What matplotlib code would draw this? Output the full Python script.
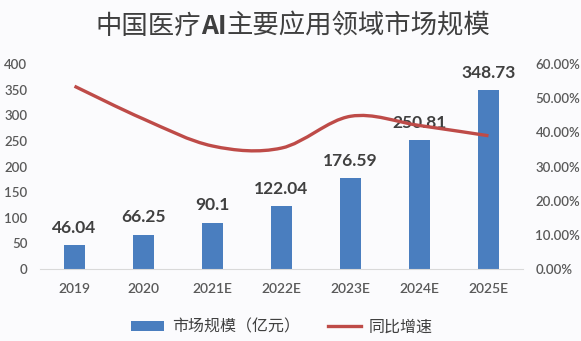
"""
plot.py — 中国医疗AI主要应用领域市场规模 (bar + smoothed growth line).
"""

import matplotlib
matplotlib.use("Agg")

import matplotlib.pyplot as plt
import matplotlib.ticker as mticker
from matplotlib.lines import Line2D
from matplotlib.offsetbox import AnchoredOffsetbox, HPacker, TextArea
from matplotlib.patches import PathPatch, Patch
from matplotlib.path import Path

# ── Data ──────────────────────────────────────────────────────────────────────
YEARS = ["2019", "2020", "2021E", "2022E", "2023E", "2024E", "2025E"]
MARKET_SIZE = [46.04, 66.25, 90.1, 122.04, 176.59, 250.81, 348.73]   # 亿元
YOY_GROWTH = [53.5, 43.9, 36.0, 35.4, 44.7, 42.0, 39.0]               # %

# ── Design tokens ─────────────────────────────────────────────────────────────
COLOR_BAR   = "#4A7EBF"
COLOR_LINE  = "#BE4B48"
COLOR_LABEL = "#404040"
COLOR_TICK  = "#595959"
COLOR_AXIS  = "#D9D9D9"
COLOR_BG    = "#FBFBFD"

CJK = ["Noto Sans CJK SC", "DejaVu Sans"]
NUM = ["Lato", "DejaVu Sans"]

plt.rcParams["font.family"] = CJK


def _smooth_path(xs, ys):
    """Catmull-Rom style Bezier path through the points (like Excel smoothing)."""
    pts = list(zip(xs, ys))
    n = len(pts)
    verts = [pts[0]]
    codes = [Path.MOVETO]
    for i in range(n - 1):
        p0 = pts[i - 1] if i > 0 else pts[i]
        p1 = pts[i]
        p2 = pts[i + 1]
        p3 = pts[i + 2] if i + 2 < n else pts[i + 1]
        c1 = (p1[0] + (p2[0] - p0[0]) / 6, p1[1] + (p2[1] - p0[1]) / 6)
        c2 = (p2[0] - (p3[0] - p1[0]) / 6, p2[1] - (p3[1] - p1[1]) / 6)
        verts += [c1, c2, p2]
        codes += [Path.CURVE4] * 3
    return Path(verts, codes)


def _style_ticks(labels):
    for lab in labels:
        lab.set_family(NUM)
        lab.set_fontweight("semibold")


fig = plt.figure(figsize=(5.81, 3.41), dpi=100, facecolor=COLOR_BG)
ax = fig.add_axes([40 / 581, 1 - 269 / 341, 483 / 581, 205 / 341])
ax.set_facecolor(COLOR_BG)

x = list(range(len(YEARS)))
bars = ax.bar(x, MARKET_SIZE, width=0.31, color=COLOR_BAR, zorder=2)
ax.bar_label(bars, labels=[f"{v:g}" for v in MARKET_SIZE], padding=7,
             fontsize=12.5, fontweight="bold", color=COLOR_LABEL, family=NUM)

ax.set_xlim(-0.5, len(YEARS) - 0.5)
ax.set_ylim(0, 400)
ax.yaxis.set_major_locator(mticker.MultipleLocator(50))
ax.set_xticks(x)
ax.set_xticklabels(YEARS)
ax.tick_params(axis="both", length=0, colors=COLOR_TICK, labelsize=9.5)
ax.tick_params(axis="x", pad=10, labelsize=10)
ax.tick_params(axis="y", pad=9)
_style_ticks(ax.get_xticklabels() + ax.get_yticklabels())
ax.spines[["top", "right", "left"]].set_visible(False)
ax.spines["bottom"].set_color(COLOR_AXIS)

# ── Growth line on secondary axis ────────────────────────────────────────────
ax2 = ax.twinx()
ax2.set_ylim(0, 60)
ax2.yaxis.set_major_locator(mticker.MultipleLocator(10))
ax2.yaxis.set_major_formatter(mticker.FuncFormatter(lambda v, _: f"{v:.2f}%"))
ax2.tick_params(axis="y", length=0, colors=COLOR_TICK, labelsize=9.5, pad=9)
_style_ticks(ax2.get_yticklabels())
ax2.spines[:].set_visible(False)
ax2.add_patch(PathPatch(_smooth_path(x, YOY_GROWTH), facecolor="none",
                        edgecolor=COLOR_LINE, linewidth=2.4, capstyle="butt",
                        zorder=3))

# ── Title (bold "AI") & legend ───────────────────────────────────────────────
title_parts = [("中国医疗", "normal"), ("AI", "bold"), ("主要应用领域市场规模", "normal")]
title_box = HPacker(children=[
    TextArea(t, textprops=dict(fontsize=19, color="#3F3F3F", fontweight=w,
                               family=CJK))
    for t, w in title_parts], align="baseline", pad=0, sep=0)
fig.add_artist(AnchoredOffsetbox(loc="center", child=title_box, frameon=False,
                                 bbox_to_anchor=(293 / 581, 1 - 26 / 341),
                                 bbox_transform=fig.transFigure, pad=0,
                                 borderpad=0))

handles = [Patch(facecolor=COLOR_BAR, edgecolor="none"),
           Line2D([], [], color=COLOR_LINE, linewidth=2.4)]
fig.legend(handles, ["市场规模（亿元）", "同比增速"], loc="center",
           bbox_to_anchor=(282 / 581, 1 - 327 / 341), ncol=2, frameon=False,
           fontsize=11.5, handlelength=2.1, handleheight=0.6, handletextpad=0.5,
           columnspacing=1.7, labelcolor=COLOR_LABEL)

fig.savefig("out.png", dpi=100, facecolor=COLOR_BG)
